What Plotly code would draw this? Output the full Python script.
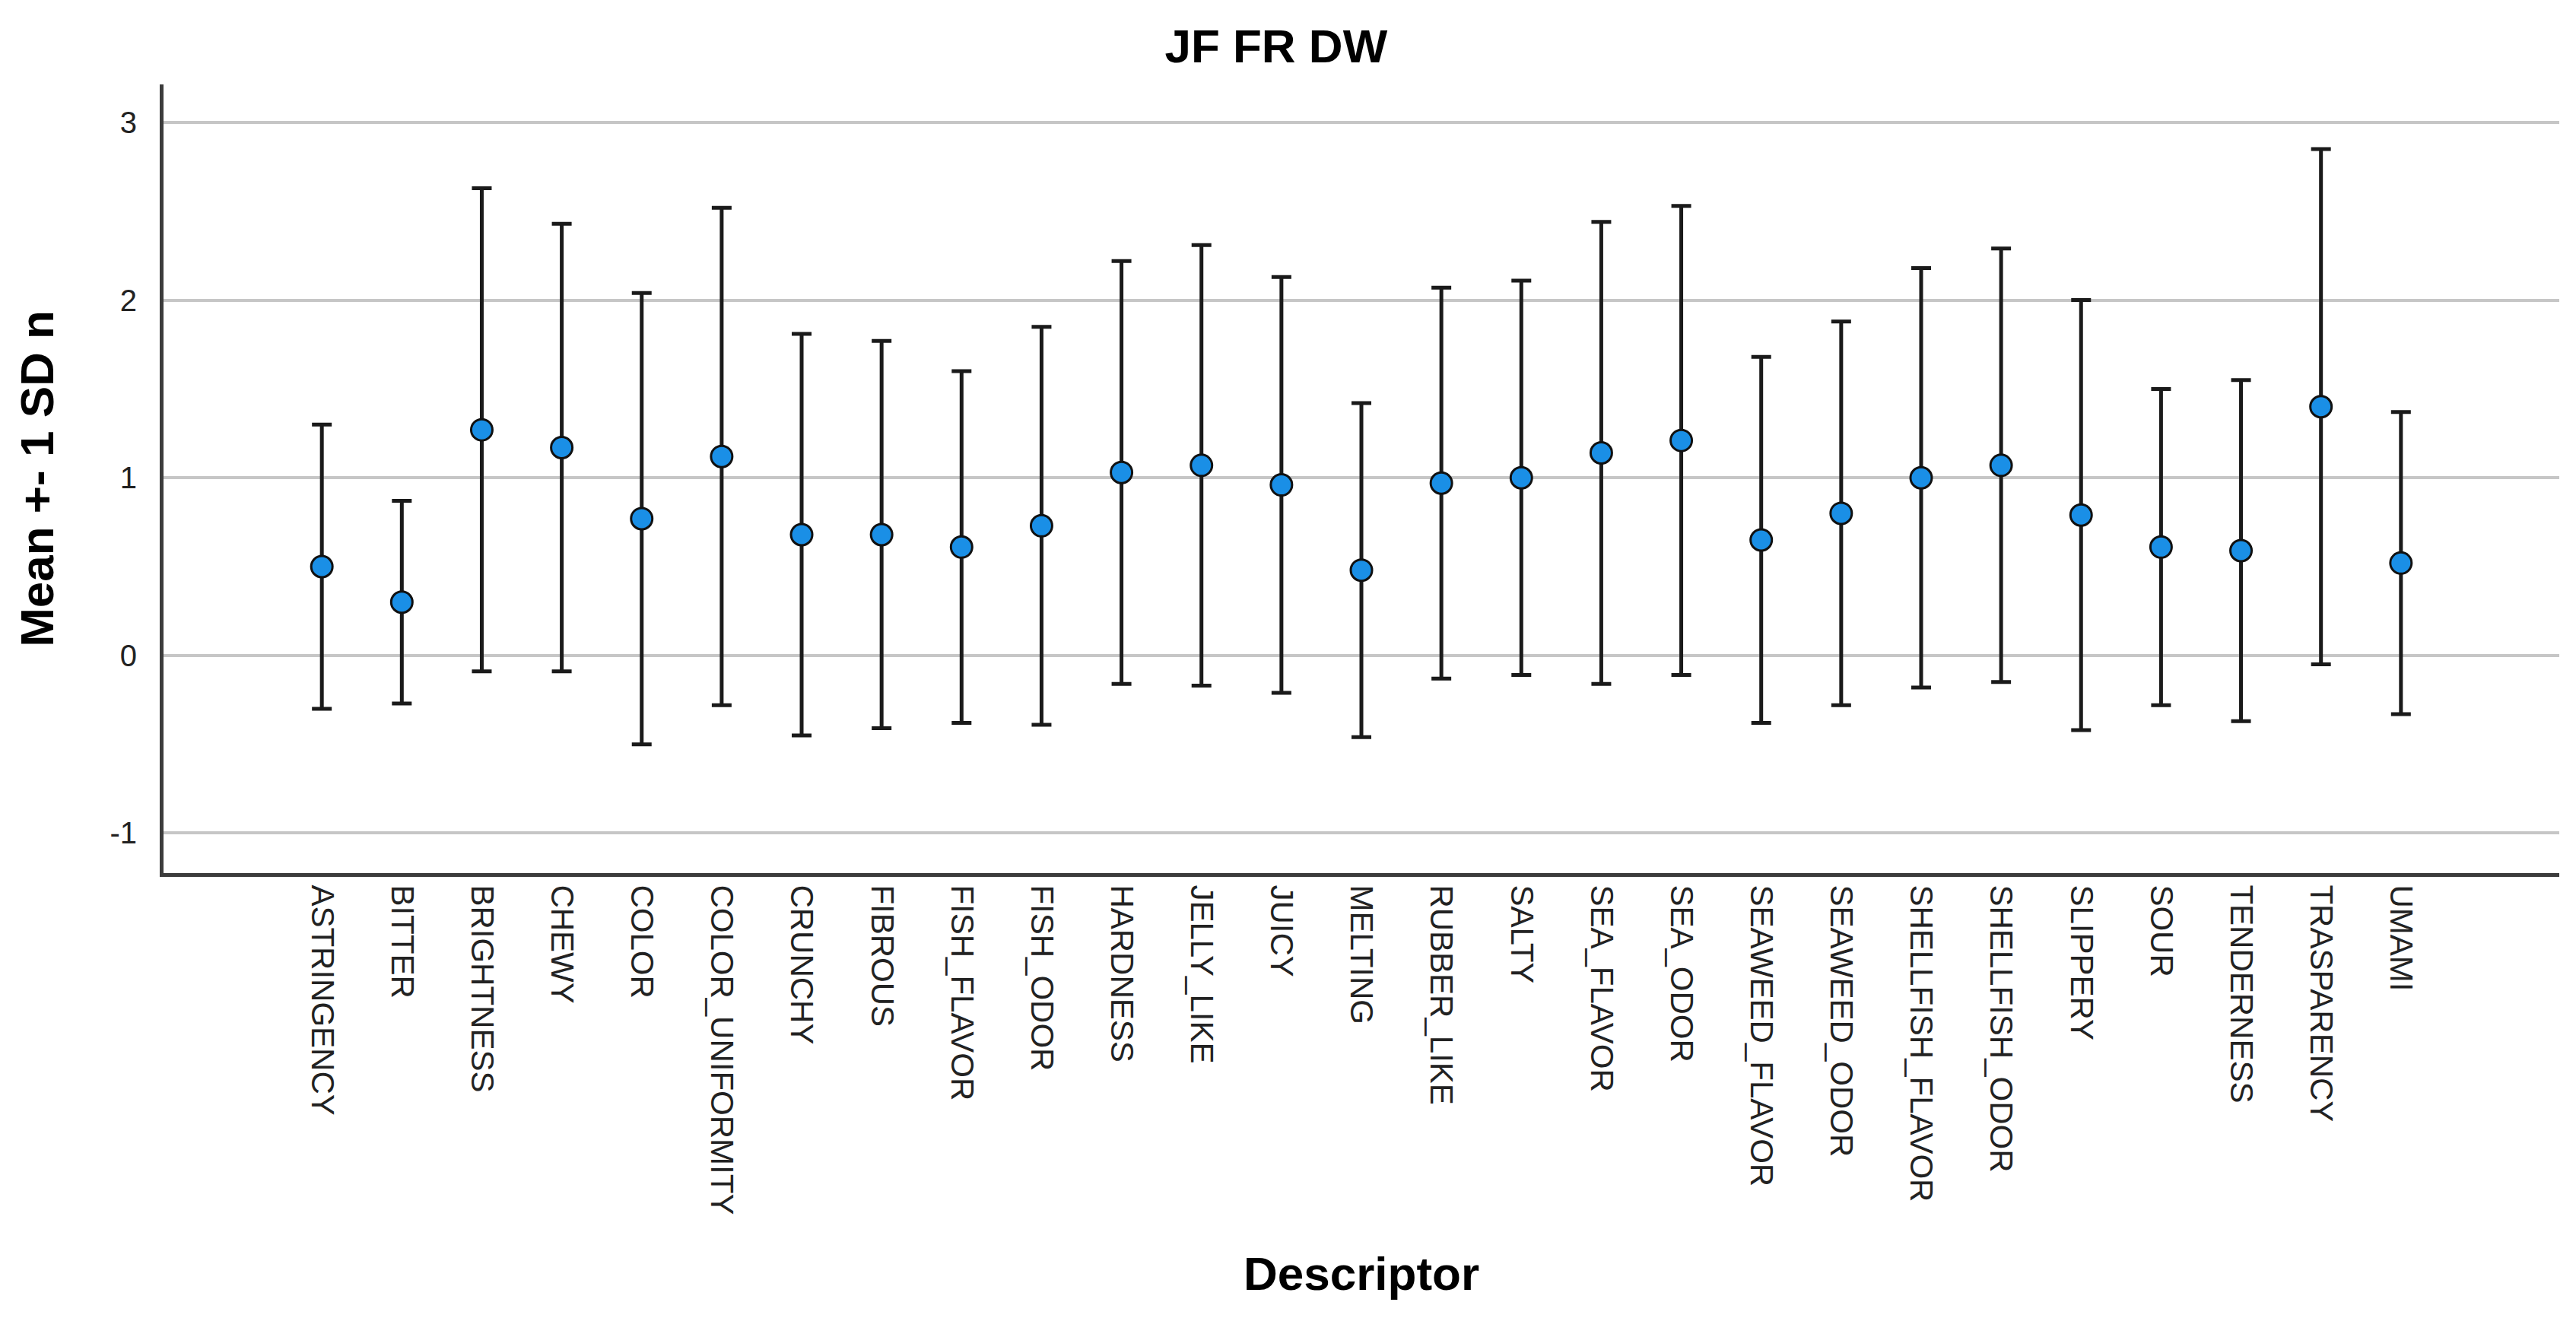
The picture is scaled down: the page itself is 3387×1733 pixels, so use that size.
import plotly.graph_objects as go

descriptors = [
    "ASTRINGENCY", "BITTER", "BRIGHTNESS", "CHEWY", "COLOR", "COLOR_UNIFORMITY",
    "CRUNCHY", "FIBROUS", "FISH_FLAVOR", "FISH_ODOR", "HARDNESS", "JELLY_LIKE",
    "JUICY", "MELTING", "RUBBER_LIKE", "SALTY", "SEA_FLAVOR", "SEA_ODOR",
    "SEAWEED_FLAVOR", "SEAWEED_ODOR", "SHELLFISH_FLAVOR", "SHELLFISH_ODOR",
    "SLIPPERY", "SOUR", "TENDERNESS", "TRASPARENCY", "UMAMI",
]
means = [
    0.50, 0.30, 1.27, 1.17, 0.77, 1.12,
    0.68, 0.68, 0.61, 0.73, 1.03, 1.07,
    0.96, 0.48, 0.97, 1.00, 1.14, 1.21,
    0.65, 0.80, 1.00, 1.07,
    0.79, 0.61, 0.59, 1.40, 0.52,
]
sds = [
    0.80, 0.57, 1.36, 1.26, 1.27, 1.40,
    1.13, 1.09, 0.99, 1.12, 1.19, 1.24,
    1.17, 0.94, 1.10, 1.11, 1.30, 1.32,
    1.03, 1.08, 1.18, 1.22,
    1.21, 0.89, 0.96, 1.45, 0.85,
]
y_ticks = [-1, 0, 1, 2, 3]

FONT = "Liberation Sans, Arial, sans-serif"

fig = go.Figure()
fig.add_trace(go.Scatter(
    x=descriptors,
    y=means,
    mode="markers",
    marker=dict(size=28, color="#1A8FE6", line=dict(color="#111111", width=3)),
    error_y=dict(type="data", array=sds, symmetric=True,
                 color="#1a1a1a", thickness=5, width=13),
    showlegend=False,
))

fig.update_layout(
    width=3387, height=1733,
    paper_bgcolor="white", plot_bgcolor="white",
    margin=dict(l=207, r=30, t=103, b=593),
    font=dict(family=FONT, color="#222222"),
    title=dict(text="<b>JF FR DW</b>", x=0.493, xref="container", xanchor="center",
               y=0.970, yref="container", yanchor="middle",
               font=dict(size=62, family=FONT, color="#000000")),
)

fig.update_xaxes(
    type="category",
    range=[-1.98, 27.98],
    tickangle=90,
    tickfont=dict(size=42, family=FONT, color="#222222"),
    ticks="",
    ticklabelstandoff=2,
    showgrid=False,
    showline=True, linecolor="#3c3c3c", linewidth=5,
    title=dict(text="<b>Descriptor</b>", font=dict(size=62, family=FONT, color="#000000"), standoff=58),
)

fig.update_yaxes(
    range=[-1.225, 3.214],
    tickvals=y_ticks,
    ticktext=[str(v) for v in y_ticks],
    tickfont=dict(size=40, family=FONT, color="#222222"),
    ticks="",
    ticklabelstandoff=22,
    showgrid=True, gridcolor="#c6c6c6", gridwidth=4,
    zeroline=False,
    showline=True, linecolor="#3c3c3c", linewidth=5,
    title=dict(text="<b>Mean +- 1 SD n</b>", font=dict(size=62, family=FONT, color="#000000"), standoff=55),
)

fig.write_html("out.html")
